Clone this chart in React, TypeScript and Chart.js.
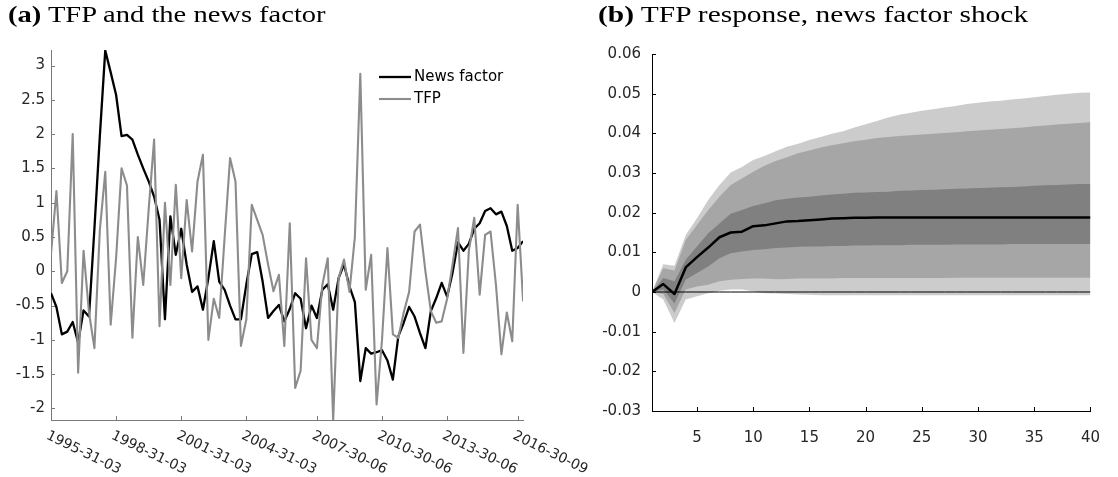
import React, { useEffect, useRef } from "react";
import { Chart, registerables } from "chart.js";

Chart.register(...registerables);

// ---------- Panel (a): TFP and the news factor (quarterly, index = quarters since 1995Q1)
const newsFactor = [
  -0.32, -0.52, -0.92, -0.88, -0.74, -1.04, -0.57, -0.66, 0.62, 1.97,
  3.22, 2.9, 2.57, 1.97, 1.99, 1.92, 1.7, 1.5, 1.31, 1.09,
  0.75, -0.7, 0.8, 0.24, 0.62, 0.1, -0.3, -0.22, -0.56, -0.1,
  0.44, -0.15, -0.27, -0.5, -0.7, -0.7, -0.19, 0.25, 0.28, -0.15,
  -0.68, -0.58, -0.49, -0.73, -0.55, -0.32, -0.4, -0.83, -0.5, -0.68,
  -0.27, -0.19, -0.56, -0.1, 0.1, -0.22, -0.45, -1.6, -1.12, -1.2,
  -1.18, -1.15, -1.3, -1.58, -0.95, -0.75, -0.52, -0.66, -0.9, -1.12,
  -0.58, -0.39, -0.17, -0.37, -0.02, 0.42, 0.3, 0.4, 0.62, 0.7,
  0.88, 0.92, 0.83, 0.87, 0.66, 0.3, 0.34, 0.44,
];
const tfp = [
  0.25, 1.17, -0.17, 0.0, 2.0, -1.48, 0.3, -0.6, -1.12, 0.6,
  1.45, -0.78, 0.2, 1.5, 1.25, -0.97, 0.5, -0.2, 0.9, 1.92,
  -0.8, 1.0, -0.2, 1.26, -0.1, 1.04, 0.29, 1.31, 1.7, -1.0,
  -0.4, -0.68, 0.5, 1.65, 1.31, -1.09, -0.7, 0.97, 0.75, 0.53,
  0.1, -0.29, -0.05, -1.09, 0.7, -1.7, -1.45, 0.19, -1.0, -1.12,
  -0.2, 0.19, -2.17, -0.1, 0.17, -0.3, 0.5, 2.88, -0.27, 0.24,
  -1.94, -1.0, 0.34, -0.92, -0.97, -0.6, -0.3, 0.58, 0.68, 0.0,
  -0.58, -0.75, -0.73, -0.4, 0.1, 0.63, -1.19, 0.3, 0.78, -0.34,
  0.53, 0.58, -0.2, -1.21, -0.6, -1.02, 0.97, -0.44,
];
const dateTickQuarters = [0, 12, 24, 36, 49, 61, 73, 86];
const dateTickLabels = [
  "1995-31-03", "1998-31-03", "2001-31-03", "2004-31-03",
  "2007-30-06", "2010-30-06", "2013-30-06", "2016-30-09",
];
const leftYTicks = [-2, -1.5, -1, -0.5, 0, 0.5, 1, 1.5, 2, 2.5, 3];
const leftYMin = -2.168;
const leftYMax = 3.226;

// ---------- Panel (b): TFP response to a news factor shock
const horizons = Array.from({ length: 40 }, (_, i) => i + 1);
const irfMedian = [
  0, 0.002, -0.0005, 0.0062, 0.0088, 0.0112, 0.0138, 0.015, 0.0152, 0.0166,
  0.0168, 0.0173, 0.0178, 0.0179, 0.0181, 0.0183, 0.0185, 0.0186, 0.0187, 0.0187,
  0.0188, 0.0188, 0.0188, 0.0188, 0.0188, 0.0188, 0.0188, 0.0188, 0.0188, 0.0188,
  0.0188, 0.0188, 0.0188, 0.0188, 0.0188, 0.0188, 0.0188, 0.0188, 0.0188, 0.0188,
];
const innerUpper = [
  0, 0.0035, 0.0027, 0.0081, 0.0115, 0.0148, 0.0173, 0.0197, 0.0207, 0.0217,
  0.0224, 0.0231, 0.0235, 0.0238, 0.024, 0.0243, 0.0246, 0.0248, 0.025, 0.0251,
  0.0252, 0.0253, 0.0255, 0.0256, 0.0257, 0.0258, 0.0259, 0.026, 0.0261, 0.0262,
  0.0263, 0.0264, 0.0265, 0.0266, 0.0268, 0.0269, 0.027, 0.0271, 0.0272, 0.0272,
];
const innerLower = [
  0, 0.0006, -0.0029, 0.0031, 0.0048, 0.0064, 0.0085, 0.0098, 0.0102, 0.0106,
  0.0108, 0.0111, 0.0112, 0.0114, 0.0115, 0.0115, 0.0116, 0.0116, 0.0117, 0.0117,
  0.0118, 0.0118, 0.0118, 0.0119, 0.0119, 0.0119, 0.0119, 0.012, 0.012, 0.012,
  0.012, 0.012, 0.0121, 0.0121, 0.0121, 0.0121, 0.0121, 0.0121, 0.0121, 0.0121,
];
const middleUpper = [
  0, 0.006, 0.0054, 0.0131, 0.0169, 0.0207, 0.024, 0.027, 0.0286, 0.0303,
  0.0318, 0.033, 0.034, 0.035, 0.0357, 0.0364, 0.037, 0.0375, 0.038, 0.0384,
  0.0388, 0.0391, 0.0393, 0.0395, 0.0397, 0.0399, 0.0401, 0.0403, 0.0405, 0.0407,
  0.0409, 0.0411, 0.0413, 0.0415, 0.0418, 0.042, 0.0422, 0.0424, 0.0426, 0.0428,
];
const middleLower = [
  0, -0.0005, -0.0053, 0.0006, 0.0014, 0.0018, 0.0027, 0.0031, 0.0033, 0.0034,
  0.0034, 0.0032, 0.0033, 0.0034, 0.0034, 0.0034, 0.0034, 0.0035, 0.0035, 0.0035,
  0.0035, 0.0035, 0.0035, 0.0035, 0.0035, 0.0035, 0.0035, 0.0036, 0.0036, 0.0036,
  0.0036, 0.0036, 0.0036, 0.0036, 0.0036, 0.0036, 0.0036, 0.0036, 0.0036, 0.0036,
];
const outerUpper = [
  0, 0.007, 0.0066, 0.0144, 0.0186, 0.0232, 0.027, 0.0301, 0.0315, 0.0333,
  0.0343, 0.0355, 0.0366, 0.0374, 0.0383, 0.0391, 0.0399, 0.0405, 0.0415, 0.0423,
  0.0431, 0.044, 0.0447, 0.0452, 0.0457, 0.0461, 0.0465, 0.0469, 0.0474, 0.0477,
  0.048, 0.0482, 0.0485, 0.0488, 0.0491, 0.0494, 0.0497, 0.05, 0.0502, 0.0503,
];
const outerLower = [
  0, -0.0019, -0.0078, -0.0019, -0.0011, -0.0003, 0.0003, 0.0006, 0.0006, 0.0002,
  -0.0003, -0.0004, -0.0005, -0.0006, -0.0007, -0.0008, -0.0008, -0.0008, -0.0008, -0.0008,
  -0.0008, -0.0008, -0.0008, -0.0008, -0.0008, -0.0008, -0.0008, -0.0008, -0.0008, -0.0008,
  -0.0008, -0.0008, -0.0008, -0.0008, -0.0008, -0.0008, -0.0008, -0.0008, -0.0008, -0.0008,
];
const zeroLine = horizons.map(() => 0);
const rightYTicks = [-0.03, -0.02, -0.01, 0, 0.01, 0.02, 0.03, 0.04, 0.05, 0.06];
const rightXTicks = [5, 10, 15, 20, 25, 30, 35, 40];

// ---------- styling
const FONT = "'DejaVu Sans', 'Liberation Sans', sans-serif";
const TICK_SIZE = 15;
const DATE_LABEL_SIZE = 14;
const TEXT_COLOR = "#262626";

const innerTicks = {
  id: "innerTicks",
  afterDatasetsDraw(chart: any, _args: any, opts: any) {
    const { ctx, chartArea } = chart;
    const xs = chart.scales.x;
    const ys = chart.scales.y;
    ctx.save();
    ctx.strokeStyle = opts.color;
    ctx.lineWidth = 1;
    for (const t of xs.ticks) {
      const px = Math.round(xs.getPixelForValue(t.value)) + 0.5;
      ctx.beginPath();
      ctx.moveTo(px, chartArea.bottom);
      ctx.lineTo(px, chartArea.bottom - opts.len);
      ctx.stroke();
    }
    for (const t of ys.ticks) {
      const py = Math.round(ys.getPixelForValue(t.value)) + 0.5;
      ctx.beginPath();
      ctx.moveTo(chartArea.left, py);
      ctx.lineTo(chartArea.left + opts.len, py);
      ctx.stroke();
    }
    ctx.restore();
  },
};

const rotatedDateLabels = {
  id: "rotatedDateLabels",
  afterDraw(chart: any, _args: any, opts: any) {
    const { ctx, chartArea } = chart;
    const xs = chart.scales.x;
    ctx.save();
    ctx.font = `${DATE_LABEL_SIZE}px ${FONT}`;
    ctx.fillStyle = TEXT_COLOR;
    ctx.textAlign = "left";
    ctx.textBaseline = "middle";
    for (const t of xs.ticks) {
      const idx = dateTickQuarters.indexOf(t.value);
      if (idx < 0) continue;
      const px = xs.getPixelForValue(t.value);
      ctx.save();
      ctx.translate(px + opts.dx, chartArea.bottom + opts.dy);
      ctx.rotate((opts.angle * Math.PI) / 180);
      ctx.fillText(dateTickLabels[idx], 0, 0);
      ctx.restore();
    }
    ctx.restore();
  },
};

const insideLegend = {
  id: "insideLegend",
  afterDraw(chart: any, _args: any, opts: any) {
    const { ctx } = chart;
    ctx.save();
    ctx.font = `${TICK_SIZE}px ${FONT}`;
    ctx.textAlign = "left";
    ctx.textBaseline = "middle";
    chart.data.datasets.forEach((ds: any, i: number) => {
      const y = opts.y + i * opts.rowGap;
      ctx.strokeStyle = ds.borderColor;
      ctx.lineWidth = ds.borderWidth;
      ctx.beginPath();
      ctx.moveTo(opts.x, y);
      ctx.lineTo(opts.x + opts.lineLen, y);
      ctx.stroke();
      ctx.fillStyle = "#000";
      ctx.fillText(ds.label, opts.x + opts.lineLen + 3, y + 0.5);
    });
    ctx.restore();
  },
};

const LEFT_W = 600;
const RIGHT_W = 558;
const H = 477;

function LeftChart() {
  const ref = useRef<HTMLCanvasElement | null>(null);
  useEffect(() => {
    if (!ref.current) return;
    const axisColor = "#7a7a7a";
    const chart = new Chart(ref.current, {
      type: "line",
      data: {
        datasets: [
          {
            label: "News factor",
            data: newsFactor.map((v, i) => ({ x: i, y: v })),
            borderColor: "#000000",
            borderWidth: 2.3,
            pointRadius: 0,
            tension: 0,
            fill: false,
            order: 1,
            borderJoinStyle: "round",
          },
          {
            label: "TFP",
            data: tfp.map((v, i) => ({ x: i, y: v })),
            borderColor: "#8c8c8c",
            borderWidth: 2.1,
            pointRadius: 0,
            tension: 0,
            fill: false,
            order: 0,
            borderJoinStyle: "round",
          },
        ],
      },
      options: {
        animation: false,
        responsive: false,
        events: [],
        layout: {
          autoPadding: false,
          padding: { left: 0, right: LEFT_W - 523.1, top: 50, bottom: 0 },
        },
        plugins: {
          legend: { display: false },
          tooltip: { enabled: false },
          innerTicks: { color: axisColor, len: 4 },
          rotatedDateLabels: { dx: -4, dy: 15, angle: 26 },
          insideLegend: { x: 379, y: 77, rowGap: 22, lineLen: 32 },
        } as any,
        scales: {
          x: {
            type: "linear",
            min: 0,
            max: 87,
            afterBuildTicks: (s: any) => {
              s.ticks = dateTickQuarters.map((v) => ({ value: v }));
            },
            ticks: { display: false },
            grid: { display: false, drawTicks: false },
            border: { display: true, color: axisColor, width: 1 },
            afterFit: (s: any) => {
              s.height = H - 420;
            },
          },
          y: {
            type: "linear",
            min: leftYMin,
            max: leftYMax,
            afterBuildTicks: (s: any) => {
              s.ticks = leftYTicks.map((v) => ({ value: v }));
            },
            ticks: {
              font: { family: FONT, size: TICK_SIZE },
              color: TEXT_COLOR,
              padding: 6,
              callback: (v: any) => String(v),
            },
            grid: { display: false, drawTicks: false },
            border: { display: true, color: axisColor, width: 1 },
            afterFit: (s: any) => {
              s.width = 51;
            },
          },
        },
      },
      plugins: [innerTicks, rotatedDateLabels, insideLegend],
    } as any);
    return () => chart.destroy();
  }, []);
  return (
    <canvas
      ref={ref}
      width={LEFT_W}
      height={H}
      style={{ position: "absolute", left: 0, top: 0, width: LEFT_W, height: H }}
    />
  );
}

function RightChart() {
  const ref = useRef<HTMLCanvasElement | null>(null);
  useEffect(() => {
    if (!ref.current) return;
    const pts = (arr: number[]) => arr.map((v, i) => ({ x: horizons[i], y: v }));
    const band = (arr: number[], color: string, order: number, fill: any) => ({
      data: pts(arr),
      borderWidth: 0,
      borderColor: color,
      backgroundColor: color,
      pointRadius: 0,
      tension: 0,
      fill,
      order,
    });
    const chart = new Chart(ref.current, {
      type: "line",
      data: {
        datasets: [
          {
            label: "Median",
            data: pts(irfMedian),
            borderColor: "#000000",
            borderWidth: 2.5,
            pointRadius: 0,
            tension: 0,
            fill: false,
            order: 0,
            borderJoinStyle: "round",
          },
          {
            label: "Zero",
            data: pts(zeroLine),
            borderColor: "#000000",
            borderWidth: 1,
            pointRadius: 0,
            fill: false,
            order: 1,
          },
          band(innerUpper, "#808080", 2, "+1"),
          band(innerLower, "#808080", 3, false),
          band(middleUpper, "#a6a6a6", 4, "+1"),
          band(middleLower, "#a6a6a6", 5, false),
          band(outerUpper, "#cccccc", 6, "+1"),
          band(outerLower, "#cccccc", 7, false),
        ],
      },
      options: {
        animation: false,
        responsive: false,
        events: [],
        layout: {
          autoPadding: false,
          padding: { left: 0, right: RIGHT_W - 545, top: 54, bottom: 0 },
        },
        plugins: {
          legend: { display: false },
          tooltip: { enabled: false },
          innerTicks: { color: "#000000", len: 4 },
        } as any,
        scales: {
          x: {
            type: "linear",
            min: 1,
            max: 40,
            afterBuildTicks: (s: any) => {
              s.ticks = rightXTicks.map((v) => ({ value: v }));
            },
            ticks: {
              font: { family: FONT, size: TICK_SIZE },
              color: TEXT_COLOR,
              padding: 18,
              maxRotation: 0,
              callback: (v: any) => String(v),
            },
            grid: { display: false, drawTicks: false },
            border: { display: true, color: "#000000", width: 1 },
            afterFit: (s: any) => {
              s.height = H - 411;
            },
          },
          y: {
            type: "linear",
            min: -0.03,
            max: 0.06,
            afterBuildTicks: (s: any) => {
              s.ticks = rightYTicks.map((v) => ({ value: v }));
            },
            ticks: {
              font: { family: FONT, size: TICK_SIZE },
              color: TEXT_COLOR,
              padding: 11,
              callback: (v: any) => (v === 0 ? "0" : Number(v).toFixed(2)),
            },
            grid: { display: false, drawTicks: false },
            border: { display: true, color: "#000000", width: 1 },
            afterFit: (s: any) => {
              s.width = 92;
            },
          },
        },
      },
      plugins: [innerTicks],
    } as any);
    return () => chart.destroy();
  }, []);
  return (
    <canvas
      ref={ref}
      width={RIGHT_W}
      height={H}
      style={{ position: "absolute", left: 560, top: 0, width: RIGHT_W, height: H }}
    />
  );
}

const titleStyle: React.CSSProperties = {
  position: "absolute",
  top: 2,
  fontFamily: "'Liberation Serif', 'Times New Roman', serif",
  fontSize: 23,
  lineHeight: "26px",
  whiteSpace: "nowrap",
  color: "#000",
  transformOrigin: "left top",
  zIndex: 2,
};

export default function App() {
  return (
    <div
      style={{
        position: "fixed",
        left: 0,
        top: 0,
        width: 1118,
        height: H,
        background: "#ffffff",
        overflow: "hidden",
      }}
    >
      <LeftChart />
      <RightChart />
      <div style={{ ...titleStyle, left: 8, transform: "scaleX(1.24)" }}>
        <b>(a)</b> TFP and the news factor
      </div>
      <div style={{ ...titleStyle, left: 598, transform: "scaleX(1.28)" }}>
        <b>(b)</b> TFP response, news factor shock
      </div>
    </div>
  );
}
